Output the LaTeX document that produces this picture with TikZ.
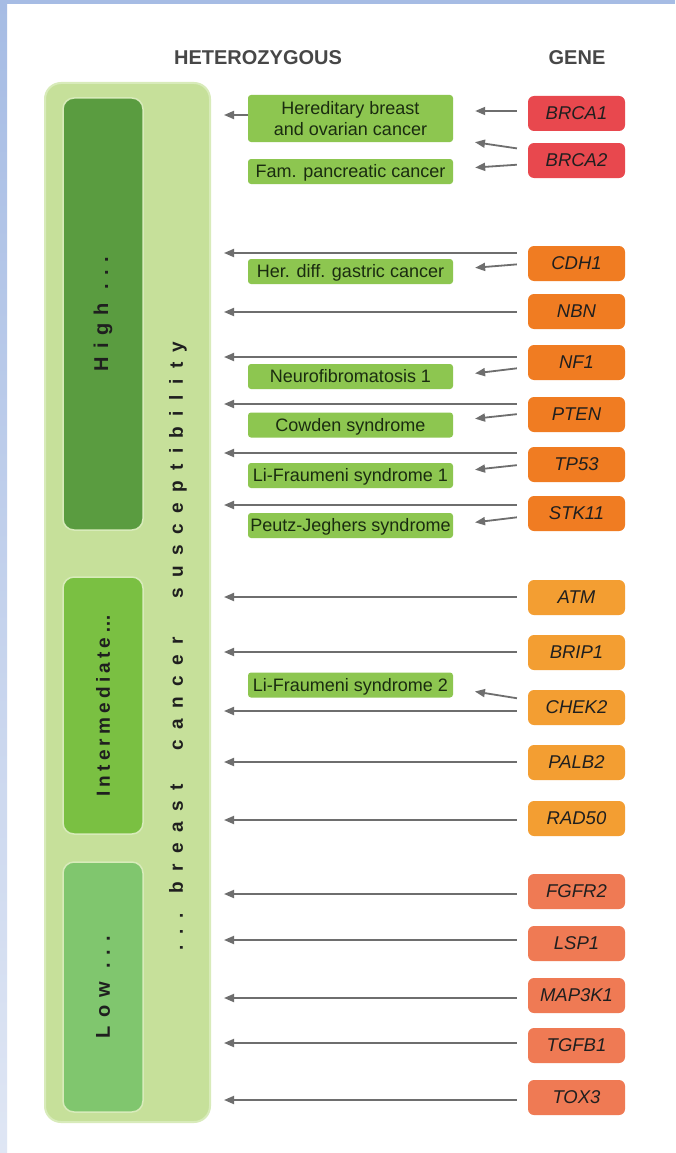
\documentclass[tikz,border=0pt]{standalone}
\usepackage{fontspec}
\setmainfont{Liberation Sans}
\newfontfamily\riskfont[LetterSpace=40]{Liberation Sans}
\newfontfamily\riskfontnarrow[LetterSpace=22]{Liberation Sans}
\newfontfamily\suscfont[LetterSpace=55]{Liberation Sans}
\usepackage{tikz}
\usetikzlibrary{arrows.meta,calc,positioning}

\definecolor{framebl}{HTML}{A6BCE4}
\definecolor{framebllight}{HTML}{DFE6F4}
\definecolor{suscgreen}{HTML}{C6E09A}
\definecolor{suscedge}{HTML}{D8EBBA}
\definecolor{highgreen}{HTML}{5A9C40}
\definecolor{intgreen}{HTML}{7AC042}
\definecolor{lowgreen}{HTML}{80C66E}
\definecolor{diseasegreen}{HTML}{8DC650}
\definecolor{diseasetext}{HTML}{1A2C10}
\definecolor{brcared}{HTML}{E8484E}
\definecolor{highorange}{HTML}{F07C22}
\definecolor{intorange}{HTML}{F39E32}
\definecolor{lowsalmon}{HTML}{EF7A54}
\definecolor{arrowgray}{HTML}{6E6E6E}

\begin{document}
\begin{tikzpicture}[
    x=1pt, y=-1pt,
    font={\fontsize{17}{19}\selectfont},
    heading/.style={font={\fontsize{20}{22}\selectfont\bfseries}, text=black!72},
    suscbox/.style={draw=suscedge, line width=2pt, rounded corners=16pt, fill=suscgreen,
                    minimum width=165pt, minimum height=1039pt},
    riskbox/.style={draw=suscedge, line width=1.5pt, rounded corners=11pt, rotate=90,
                    minimum height=80pt, text=black!88,
                    font={\fontsize{20}{22}\riskfont\bfseries}},
    diseasebox/.style={fill=diseasegreen, rounded corners=3pt, text=diseasetext,
                       minimum width=205pt, minimum height=25pt, inner xsep=1pt, align=center,
                       font={\fontsize{18}{21.5}\selectfont}},
    disease/.style={diseasebox, text height=14pt, text depth=2pt},
    gene/.style={rounded corners=6pt, minimum width=97pt, minimum height=35pt,
                 text=black!88, font={\fontsize{18.5}{21}\selectfont\itshape}},
    arrow/.style={-{Triangle[length=10pt,width=8pt]}, line width=1.8pt, arrowgray},
    longarrow/.style={arrow, shorten <=11pt, shorten >=13pt},
    shortarrow/.style={arrow, shorten <=11pt, shorten >=22pt}
]
\useasboundingbox[fill=white] (0,0) rectangle (675,1153);
\fill[framebl] (0,0) rectangle (675,4);
\shade[top color=framebl, bottom color=framebllight] (0,0) rectangle (7,1153);

\node[heading] (hetero) at (258,58) {HETEROZYGOUS};
\node[heading] (genehead) at (577,58) {GENE};

\node[suscbox] (suscept) at (127.5,602.5) {};
\node[riskbox, fill=highgreen, minimum width=432pt] (high) at (103,314) {High ...};
\node[riskbox, fill=intgreen, minimum width=257pt,
      font={\fontsize{19}{21}\riskfontnarrow\bfseries}] (intermediate) at (103,705.5) {Intermediate…};
\node[riskbox, fill=lowgreen, minimum width=250pt] (low) at (103,987) {Low ...};
\node[rotate=90, text=black!88, font={\fontsize{19}{21}\suscfont\bfseries}] (susclabel) at (178,646)
      {...\hspace{20pt}breast\hspace{34pt}cancer\hspace{38pt}susceptibility};

\node[diseasebox, minimum height=47pt] (hboc) at (350.5,118.5) {Hereditary breast\\and ovarian cancer};
\node[disease] (fam) at (350.5,171.5) {Fam. pancreatic cancer};
\node[disease] (gastric) at (350.5,271.5) {Her. diff. gastric cancer};
\node[disease] (neuro) at (350.5,376.5) {Neurofibromatosis 1};
\node[disease] (cowden) at (350.5,425) {Cowden syndrome};
\node[disease] (lfone) at (350.5,475.5) {Li-Fraumeni syndrome 1};
\node[disease] (pj) at (350.5,525.5) {Peutz-Jeghers syndrome};
\node[disease] (lftwo) at (350.5,685) {Li-Fraumeni syndrome 2};

\node[gene, fill=brcared] (brca1) at (576.5,113.5) {BRCA1};
\node[gene, fill=brcared] (brca2) at (576.5,160.5) {BRCA2};
\node[gene, fill=highorange] (cdh1) at (576.5,263.5) {CDH1};
\node[gene, fill=highorange] (nbn) at (576.5,311.5) {NBN};
\node[gene, fill=highorange] (nf1) at (576.5,362.5) {NF1};
\node[gene, fill=highorange] (pten) at (576.5,414.5) {PTEN};
\node[gene, fill=highorange] (tp53) at (576.5,464.5) {TP53};
\node[gene, fill=highorange] (stk11) at (576.5,513.5) {STK11};
\node[gene, fill=intorange] (atm) at (576.5,597.5) {ATM};
\node[gene, fill=intorange] (brip1) at (576.5,652.5) {BRIP1};
\node[gene, fill=intorange] (chek2) at (576.5,707.5) {CHEK2};
\node[gene, fill=intorange] (palb2) at (576.5,762.5) {PALB2};
\node[gene, fill=intorange] (rad50) at (576.5,818.5) {RAD50};
\node[gene, fill=lowsalmon] (fgfr2) at (576.5,891.5) {FGFR2};
\node[gene, fill=lowsalmon] (lsp1) at (576.5,943.5) {LSP1};
\node[gene, fill=lowsalmon] (map3k1) at (576.5,995.5) {MAP3K1};
\node[gene, fill=lowsalmon] (tgfb1) at (576.5,1045.5) {TGFB1};
\node[gene, fill=lowsalmon] (tox3) at (576.5,1097.5) {TOX3};

\draw[arrow, shorten >=13pt] ([yshift=3.5pt]hboc.west) -- ([yshift=3.5pt]hboc.west -| suscept.east);
\draw[shortarrow] ([yshift=2.5pt]brca1.west) -- ([yshift=7.5pt]hboc.east);
\draw[shortarrow] ([yshift=10.5pt]brca2.west) -- ([yshift=-20.5pt]hboc.east);
\draw[shortarrow] ([yshift=-3.5pt]brca2.west) -- ([yshift=2.5pt]fam.east);
\draw[longarrow] ([yshift=10.5pt]cdh1.west) -- ([yshift=10.5pt]cdh1.west -| suscept.east);
\draw[shortarrow] (cdh1.west) -- ([yshift=2pt]gastric.east);
\draw[longarrow] ([yshift=-0.5pt]nbn.west) -- ([yshift=-0.5pt]nbn.west -| suscept.east);
\draw[longarrow] ([yshift=5.5pt]nf1.west) -- ([yshift=5.5pt]nf1.west -| suscept.east);
\draw[shortarrow] ([yshift=-4.5pt]nf1.west) -- ([yshift=0.5pt]neuro.east);
\draw[longarrow] ([yshift=10.5pt]pten.west) -- ([yshift=10.5pt]pten.west -| suscept.east);
\draw[shortarrow] ([yshift=1.5pt]pten.west) -- ([yshift=4pt]cowden.east);
\draw[longarrow] ([yshift=11.5pt]tp53.west) -- ([yshift=11.5pt]tp53.west -| suscept.east);
\draw[shortarrow] ([yshift=0.5pt]tp53.west) -- ([yshift=3.5pt]lfone.east);
\draw[longarrow] ([yshift=8.5pt]stk11.west) -- ([yshift=8.5pt]stk11.west -| suscept.east);
\draw[shortarrow] ([yshift=-2.5pt]stk11.west) -- ([yshift=0.5pt]pj.east);
\draw[longarrow] ([yshift=0.5pt]atm.west) -- ([yshift=0.5pt]atm.west -| suscept.east);
\draw[longarrow] ([yshift=0.5pt]brip1.west) -- ([yshift=0.5pt]brip1.west -| suscept.east);
\draw[longarrow] ([yshift=-3.5pt]chek2.west) -- ([yshift=-3.5pt]chek2.west -| suscept.east);
\draw[shortarrow] ([yshift=7.5pt]chek2.west) -- ([yshift=-3pt]lftwo.east);
\draw[longarrow] ([yshift=0.5pt]palb2.west) -- ([yshift=0.5pt]palb2.west -| suscept.east);
\draw[longarrow] ([yshift=-1.5pt]rad50.west) -- ([yshift=-1.5pt]rad50.west -| suscept.east);
\draw[longarrow] ([yshift=-2.5pt]fgfr2.west) -- ([yshift=-2.5pt]fgfr2.west -| suscept.east);
\draw[longarrow] ([yshift=3.5pt]lsp1.west) -- ([yshift=3.5pt]lsp1.west -| suscept.east);
\draw[longarrow] ([yshift=-2.5pt]map3k1.west) -- ([yshift=-2.5pt]map3k1.west -| suscept.east);
\draw[longarrow] ([yshift=2.5pt]tgfb1.west) -- ([yshift=2.5pt]tgfb1.west -| suscept.east);
\draw[longarrow] ([yshift=-2.5pt]tox3.west) -- ([yshift=-2.5pt]tox3.west -| suscept.east);
\end{tikzpicture}
\end{document}
